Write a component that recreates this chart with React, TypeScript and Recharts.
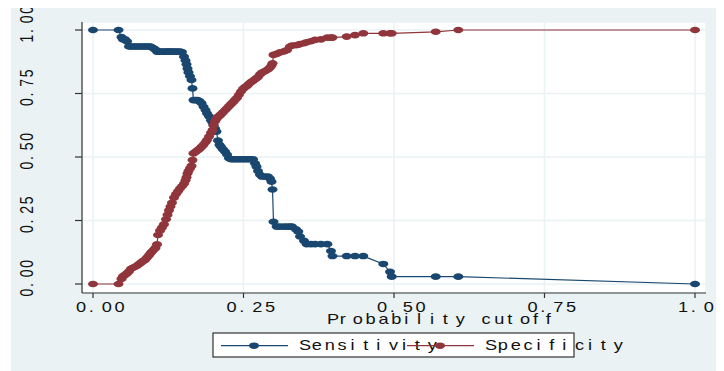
import { LineChart, Line, XAxis, YAxis, CartesianGrid, Legend } from 'recharts';

// probability cutoffs shared by both curves
const cutoffs = [
  0, 0.0424, 0.0473, 0.0498, 0.0532, 0.0565, 0.0598, 0.0631, 0.0664, 0.0698,
  0.0731, 0.0764, 0.0797, 0.0831, 0.0864, 0.0897, 0.093, 0.0955, 0.098, 0.1013,
  0.1038, 0.1063, 0.108, 0.1113, 0.1146, 0.1179, 0.1213, 0.1238, 0.1262, 0.1287,
  0.1312, 0.1346, 0.1379, 0.1412, 0.1445, 0.1478, 0.1512, 0.1537, 0.1553, 0.157,
  0.1586, 0.1611, 0.1636, 0.1653, 0.1669, 0.1703, 0.1736, 0.1769, 0.1802, 0.1836,
  0.1869, 0.1894, 0.1927, 0.196, 0.1985, 0.2002, 0.2027, 0.2051, 0.2076, 0.2101,
  0.2126, 0.2159, 0.2193, 0.2226, 0.2259, 0.2292, 0.2326, 0.2359, 0.2392, 0.2425,
  0.2458, 0.2492, 0.2525, 0.2558, 0.2591, 0.2625, 0.2658, 0.2691, 0.2716, 0.2741,
  0.2774, 0.2807, 0.2857, 0.2907, 0.294, 0.2965, 0.2982, 0.2998, 0.3051, 0.3106,
  0.3173, 0.3223, 0.3272, 0.3306, 0.3372, 0.341, 0.3439, 0.3505, 0.355, 0.3621,
  0.3688, 0.3787, 0.3892, 0.3953, 0.3978, 0.4214, 0.4352, 0.449, 0.4822, 0.4934,
  0.4962, 0.5693, 0.6068, 1,
];

const sensitivity = [
  1, 1, 0.972, 0.963, 0.963, 0.955, 0.935, 0.935, 0.935, 0.935,
  0.935, 0.935, 0.935, 0.935, 0.935, 0.935, 0.935, 0.935, 0.931, 0.927,
  0.923, 0.915, 0.915, 0.915, 0.915, 0.915, 0.915, 0.915, 0.915, 0.915,
  0.915, 0.915, 0.915, 0.915, 0.915, 0.913, 0.895, 0.88, 0.865, 0.848,
  0.833, 0.818, 0.803, 0.77, 0.724, 0.724, 0.724, 0.72, 0.712, 0.698,
  0.685, 0.672, 0.66, 0.645, 0.636, 0.625, 0.612, 0.6, 0.565, 0.548,
  0.54, 0.53, 0.521, 0.51, 0.495, 0.491, 0.491, 0.491, 0.491, 0.491,
  0.491, 0.491, 0.491, 0.491, 0.491, 0.491, 0.491, 0.475, 0.462, 0.445,
  0.43, 0.423, 0.423, 0.423, 0.415, 0.403, 0.372, 0.245, 0.226, 0.226,
  0.226, 0.226, 0.226, 0.226, 0.215, 0.206, 0.187, 0.17, 0.157, 0.157,
  0.157, 0.157, 0.157, 0.13, 0.11, 0.11, 0.11, 0.11, 0.079, 0.048,
  0.029, 0.029, 0.029, 0,
];

const specificity = [
  0, 0, 0.02, 0.03, 0.036, 0.042, 0.05, 0.06, 0.064, 0.068,
  0.072, 0.078, 0.084, 0.09, 0.095, 0.104, 0.113, 0.121, 0.128, 0.136,
  0.142, 0.156, 0.193, 0.21, 0.222, 0.235, 0.255, 0.272, 0.29, 0.305,
  0.32, 0.34, 0.354, 0.365, 0.376, 0.385, 0.395, 0.408, 0.42, 0.435,
  0.445, 0.455, 0.465, 0.488, 0.514, 0.52, 0.526, 0.532, 0.54, 0.548,
  0.558, 0.567, 0.58, 0.595, 0.606, 0.625, 0.64, 0.65, 0.658, 0.662,
  0.668, 0.676, 0.684, 0.692, 0.7, 0.708, 0.716, 0.725, 0.733, 0.745,
  0.758, 0.768, 0.775, 0.78, 0.788, 0.795, 0.8, 0.806, 0.81, 0.815,
  0.825, 0.832, 0.838, 0.845, 0.852, 0.86, 0.869, 0.902, 0.906, 0.912,
  0.916, 0.921, 0.935, 0.939, 0.94, 0.942, 0.945, 0.948, 0.952, 0.956,
  0.961, 0.963, 0.97, 0.97, 0.97, 0.974, 0.98, 0.987, 0.987, 0.987,
  0.987, 0.993, 1, 1,
];

const xTicks = [0, 0.25, 0.5, 0.75, 1];
const yTicks = [0, 0.25, 0.5, 0.75, 1];
const xTitle = 'Probability cutoff';
const seriesNames = ['Sensitivity', 'Specificity'];

const NAVY = '#1a476f';
const MAROON = '#90353b';
const BG = '#eaf2f3';
const FONT = "'Liberation Sans', Arial, Helvetica, sans-serif";

const W = 713;
const H = 363;

const data = cutoffs.map((c, i) => ({ cutoff: c, sens: sensitivity[i], spec: specificity[i] }));

// stata-ish text: every glyph in its own fixed-width cell, stretched sideways
function SpacedText({ x, y, text, cell = 9.9, sx = 1.3, rotate = false }: any) {
  const xs = text.split('').map((_: string, i: number) => (i * cell).toFixed(1)).join(' ');
  const t = `translate(${x},${y}) scale(${sx},1)${rotate ? ' rotate(-90)' : ''}`;
  return (
    <text transform={t} x={xs} y={0} fontFamily={FONT} fontSize={14} fill="#111">
      {text}
    </text>
  );
}

const XTick = ({ x, y, payload }: any) => (
  <SpacedText x={x - 17} y={y + 12} text={Number(payload.value).toFixed(2)} />
);

const YTick = ({ y, payload }: any) => (
  <SpacedText x={22} y={y + 12.5} text={Number(payload.value).toFixed(2)} cell={9.6} rotate />
);

const dotFor = (color: string) => (props: any) => {
  const { cx, cy, index } = props;
  if (cx == null || cy == null) return <g key={`e-${index}`} />;
  return <ellipse key={`d-${index}`} cx={cx} cy={cy} rx={5} ry={3.3} fill={color} />;
};

const LegendBox = ({ payload }: any) => (
  <svg width={W} height={H} style={{ display: 'block' }}>
    <rect x={202} y={325} width={361} height={24} fill="#fff" stroke="#333" strokeWidth={1.2} />
    {(payload || []).map((p: any, i: number) => {
      const bx = 210 + i * 186;
      return (
        <g key={p.value}>
          <line x1={bx} x2={bx + 67} y1={337.7} y2={337.7} stroke={p.color} strokeWidth={1.2} />
          <ellipse cx={bx + 33} cy={337.7} rx={5} ry={3.3} fill={p.color} />
          <SpacedText x={bx + 78} y={342} text={p.value} />
        </g>
      );
    })}
  </svg>
);

export default function App() {
  return (
    <div style={{ marginLeft: 3, width: W, height: H, background: BG }}>
      <LineChart width={W} height={H} data={data} margin={{ top: 14, right: 18, bottom: 0, left: 0 }}>
        <CartesianGrid fill="#fff" stroke={BG} strokeWidth={1.5} />
        <XAxis
          type="number"
          dataKey="cutoff"
          domain={[-0.01827, 1.01827]}
          ticks={xTicks}
          allowDataOverflow
          height={78}
          tickSize={5}
          axisLine={{ stroke: '#333', strokeWidth: 1.2 }}
          tickLine={{ stroke: '#333', strokeWidth: 1.2 }}
          tick={<XTick />}
          label={(props: any) => {
            const vb = props.viewBox || { x: 71, y: 285 };
            return <SpacedText x={vb.x + 245} y={vb.y + 31} text={xTitle} />;
          }}
        />
        <YAxis
          type="number"
          domain={[-0.0354, 1.0315]}
          ticks={yTicks}
          allowDataOverflow
          width={71}
          tickSize={7}
          axisLine={{ stroke: '#333', strokeWidth: 1.2 }}
          tickLine={{ stroke: '#333', strokeWidth: 1.2 }}
          tick={<YTick />}
        />
        <Legend
          layout="horizontal"
          verticalAlign="middle"
          align="center"
          content={<LegendBox />}
          wrapperStyle={{ left: 0, top: 0, width: W, height: H, pointerEvents: 'none' }}
        />
        <Line
          type="linear"
          dataKey="sens"
          name={seriesNames[0]}
          stroke={NAVY}
          strokeWidth={1.2}
          dot={dotFor(NAVY)}
          activeDot={false}
          isAnimationActive={false}
        />
        <Line
          type="linear"
          dataKey="spec"
          name={seriesNames[1]}
          stroke={MAROON}
          strokeWidth={1.2}
          dot={dotFor(MAROON)}
          activeDot={false}
          isAnimationActive={false}
        />
      </LineChart>
    </div>
  );
}
